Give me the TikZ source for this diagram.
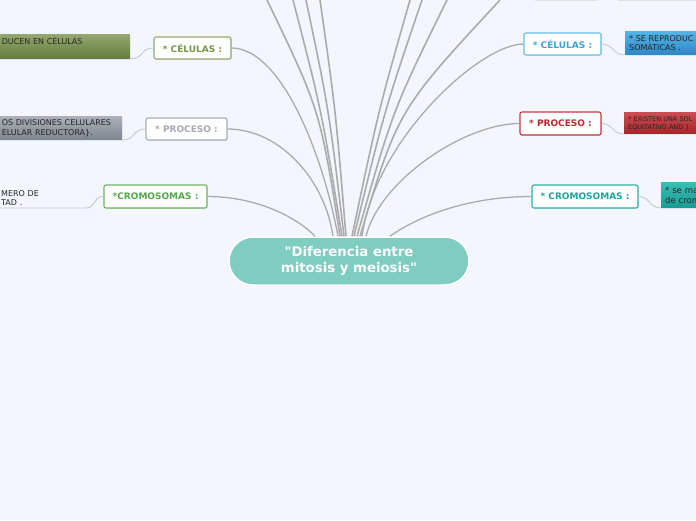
\documentclass[tikz,border=0pt]{standalone}
\usepackage{fontspec}
\setmainfont{DejaVu Sans}
\usetikzlibrary{shadows}
\definecolor{bgmap}{HTML}{F3F6FE}
\definecolor{linkgray}{HTML}{ABABAB}
\definecolor{sublinkgray}{HTML}{C6C8CE}
\definecolor{rootfill}{HTML}{7FCDC1}
\definecolor{oliveline}{HTML}{94A873}
\definecolor{olivetext}{HTML}{789645}
\definecolor{greyline}{HTML}{A9AEB7}
\definecolor{greytext}{HTML}{A6AAB2}
\definecolor{greenline}{HTML}{6DB563}
\definecolor{greentext}{HTML}{52A84A}
\definecolor{blueline}{HTML}{6BBCE6}
\definecolor{bluetext}{HTML}{3AA3DA}
\definecolor{redline}{HTML}{C8373C}
\definecolor{redtext}{HTML}{C0272D}
\definecolor{tealline}{HTML}{31AFAB}
\definecolor{tealtext}{HTML}{1FA3A0}
\definecolor{oliveA}{HTML}{93A66E}
\definecolor{oliveB}{HTML}{647B3C}
\definecolor{greyA}{HTML}{ABB0B8}
\definecolor{greyB}{HTML}{7F858D}
\definecolor{blueA}{HTML}{52B3E7}
\definecolor{blueB}{HTML}{2F87C6}
\definecolor{redA}{HTML}{CB4C51}
\definecolor{redB}{HTML}{A3262B}
\definecolor{tealA}{HTML}{36BEB5}
\definecolor{tealB}{HTML}{1A9A94}

\begin{document}
\begin{tikzpicture}[x=1pt,y=-1pt,
		link/.style={draw=linkgray, line width=1.3pt},
		toplink/.style={draw=linkgray, line width=1.6pt},
		sublink/.style={draw=sublinkgray, line width=0.9pt},
		head/.style={draw=#1, fill=white, line width=1.1pt, rounded corners=2pt, inner sep=0pt, minimum height=22pt,
			font=\fontsize{9}{10}\selectfont\bfseries, drop shadow={opacity=0.18, shadow xshift=0.8pt, shadow yshift=-0.8pt}},
		child/.style={rectangle, inner xsep=4pt, inner ysep=0pt, align=left, text=black!85,
			font=\fontsize{8}{9.5}\selectfont},
		boxed/.style={drop shadow={opacity=0.15, shadow xshift=0.8pt, shadow yshift=-0.8pt}},
		root/.style={draw=white, line width=1.5pt, fill=rootfill, rounded corners=24pt, minimum width=240pt,
			minimum height=48pt, align=center, text=white, font=\fontsize{13.3}{16.5}\selectfont\bfseries}]
	\useasboundingbox (0,0) rectangle (696,520);
	\clip (0,0) rectangle (696,520);
	\fill[bgmap] (0,0) rectangle (696,520);

	\node[root] (root) at (349,261) {\textquotedbl Diferencia entre\\mitosis y meiosis\textquotedbl};

	\node[draw=none, fill=black!12, minimum width=62pt, minimum height=20pt, anchor=south west] (topA) at (535,0.8) {};
	\node[draw=none, fill=black!12, minimum width=90pt, minimum height=20pt, anchor=south west] (topB) at (618,0.8) {};

	\node[head=oliveline, text=olivetext, minimum width=77pt] (celL) at (192.5,48) {* CÉLULAS :};
	\node[head=greyline, text=greytext, minimum width=81pt] (procL) at (186.5,129) {* PROCESO :};
	\node[head=greenline, text=greentext, minimum width=103pt, minimum height=23pt] (cromL) at (155.5,196.5) {*CROMOSOMAS :};
	\node[head=blueline, text=bluetext, minimum width=77pt] (celR) at (562.5,44) {* CÉLULAS :};
	\node[head=redline, text=redtext, minimum width=81pt, minimum height=23pt] (procR) at (560.5,123.5) {* PROCESO :};
	\node[head=tealline, text=tealtext, minimum width=106pt, minimum height=23pt] (cromR) at (585,196.5) {* CROMOSOMAS :};

	\node[child, boxed, top color=oliveA, bottom color=oliveB, minimum height=24pt, text width=124pt, anchor=south east] (celL-txt) at (130,59) {DUCEN EN CÉLULAS\\\strut};
	\node[child, boxed, top color=greyA, bottom color=greyB, minimum height=23pt, text width=116pt, anchor=south east] (procL-txt) at (122,140) {OS DIVISIONES CELULARES\\ELULAR REDUCTORA\}.};
	\node[child, inner xsep=1pt, inner ysep=2pt, text width=83pt, anchor=south west] (cromL-txt) at (0,208) {MERO DE\\TAD .};
	\node[child, boxed, top color=blueA, bottom color=blueB, minimum height=23pt, text width=100pt, anchor=south west] (celR-txt) at (625,55) {* SE REPRODUC\\SOMÁTICAS .};
	\node[child, boxed, top color=redA, bottom color=redB, minimum height=21pt, text width=100pt, anchor=south west, font=\fontsize{6.5}{7.8}\selectfont] (procR-txt) at (624,134) {* EXISTEN UNA SOL\\EQUITATIVO AND \} .};
	\node[child, boxed, top color=tealA, bottom color=tealB, minimum height=25pt, text width=60pt, anchor=south west, font=\fontsize{8.5}{10.5}\selectfont] (cromR-txt) at (661,208) {* se ma\\de crom};

	\coordinate (upA) at (267,0);
	\coordinate (upB) at (293,0);
	\coordinate (upC) at (306,0);
	\coordinate (upD) at (320,0);
	\coordinate (upE) at (410,0);
	\coordinate (upF) at (422,0);
	\coordinate (upG) at (447,0);
	\coordinate (upH) at (500,0);

	\draw[toplink] ([xshift=-9pt]root.north) .. controls (320,110) .. (upA);
	\draw[toplink] ([xshift=-7pt]root.north) .. controls (321.5,110) .. (upB);
	\draw[toplink] ([xshift=-5pt]root.north) .. controls (329,110) .. (upC);
	\draw[toplink] ([xshift=-3pt]root.north) .. controls (335.6,110) .. (upD);
	\draw[toplink] ([xshift=3pt]root.north) .. controls (378.6,110) .. (upE);
	\draw[toplink] ([xshift=5pt]root.north) .. controls (384.6,110) .. (upF);
	\draw[toplink] ([xshift=8pt]root.north) .. controls (392.8,110) .. (upG);
	\draw[toplink] ([xshift=11pt]root.north) .. controls (398,110) .. (upH);

	\draw[link] (celL.east) .. controls (280,48) and (322,150) .. ([xshift=-11pt]root.north);
	\draw[link] (procL.east) .. controls (280,129) and (325,180) .. ([xshift=-16pt]root.north);
	\draw[link] (cromL.east) .. controls (260,196.5) and (300,220) .. ([xshift=-34pt]root.north);
	\draw[link] (celR.west) .. controls (480,44) and (375,140) .. ([xshift=13pt]root.north);
	\draw[link] (procR.west) .. controls (465,123.5) and (380,180) .. ([xshift=17pt]root.north);
	\draw[link] (cromR.west) .. controls (470,196.5) and (420,215) .. ([xshift=41pt]root.north);

	\draw[sublink] (celL.west) .. controls (140,48) and (144,59) .. (celL-txt.south east);
	\draw[sublink] (procL.west) .. controls (132,129) and (136,140) .. (procL-txt.south east);
	\draw[sublink] (cromL.west) .. controls (92,196.5) and (97,208) .. (cromL-txt.south east) -- (cromL-txt.south west);
	\draw[sublink] (celR.east) .. controls (613,44) and (613,55) .. (celR-txt.south west);
	\draw[sublink] (procR.east) .. controls (613,123.5) and (612,134) .. (procR-txt.south west);
	\draw[sublink] (cromR.east) .. controls (650,196.5) and (649,208) .. (cromR-txt.south west);
\end{tikzpicture}
\end{document}
